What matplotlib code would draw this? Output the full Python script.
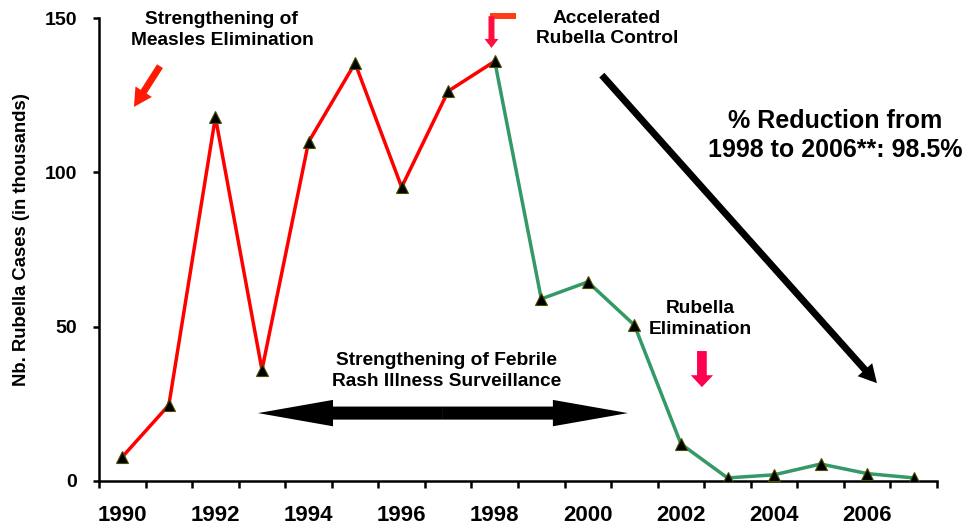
import matplotlib
matplotlib.use("Agg")
import matplotlib.pyplot as plt
from matplotlib.patches import FancyArrowPatch, ArrowStyle

plt.rcParams['font.family'] = ['Liberation Sans', 'DejaVu Sans']
plt.rcParams['font.weight'] = 'bold'

years = list(range(1990, 2008))
cases = [7.8, 24.6, 117.9, 36.0, 109.8, 135.4, 95.2, 126.3, 136.0,
         59.0, 64.5, 50.5, 12.0, 1.0, 2.0, 5.5, 2.4, 1.0]
split_year = 1998
year_labels = [str(y) if (y - 1990) % 2 == 0 else '' for y in years]
yticks = [0, 50, 100, 150]

red = '#ff0000'
green = '#339966'

fig = plt.figure(figsize=(9.66, 5.27), dpi=100)
ax = fig.add_axes([0.1025, 0.0873, 0.8675, 0.8785])

idx = list(range(len(years)))
k = years.index(split_year)
ax.plot(idx[:k + 1], cases[:k + 1], color=red, lw=2.5, zorder=2)
ax.plot(idx[k:], cases[k:], color=green, lw=2.5, zorder=2)
ax.plot(idx, cases, ls='none', marker='^', ms=8, mfc='black',
        mec='#4d4d00', mew=0.8, zorder=3)

ax.set_xlim(-0.5, len(years) - 0.5)
ax.set_ylim(0, 150)
ax.set_yticks(yticks)
ax.set_xticks([i - 0.5 for i in range(len(years) + 1)])
ax.set_xticklabels([])
ax.set_xticks(idx, minor=True)
ax.set_xticklabels(year_labels, minor=True)
ax.tick_params(axis='x', which='major', direction='out', length=5, width=1.8)
ax.tick_params(axis='x', which='minor', length=0, labelsize=16, pad=17)
ax.tick_params(axis='y', direction='out', length=4.5, width=1.8,
               labelsize=14, pad=11)
for t in ax.get_xticklabels(minor=True) + ax.get_yticklabels():
    t.set_fontweight('bold')
for s in ['top', 'right']:
    ax.spines[s].set_visible(False)
for s in ['left', 'bottom']:
    ax.spines[s].set_linewidth(1.8)

fig.text(22 / 966, 1 - 240 / 527, 'Nb. Rubella Cases (in thousands)',
         rotation=90, ha='center', va='center', fontsize=13.3,
         fontweight='bold')


def arrow(start, end, color, tail, hw, hl):
    st = ArrowStyle.Simple(head_length=hl, head_width=hw, tail_width=tail)
    p = FancyArrowPatch(start, end, arrowstyle=st, mutation_scale=1,
                        color=color, lw=0, shrinkA=0, shrinkB=0,
                        clip_on=False, zorder=4)
    ax.add_patch(p)


tkw = dict(ha='center', va='center', fontsize=13.8, fontweight='bold',
           linespacing=1.3, clip_on=False)
ax.text(2.14, 146.1, 'Strengthening of\nMeasles Elimination', **tkw)
ax.text(10.41, 146.6, 'Accelerated\nRubella Control', **tkw)
ax.text(12.41, 52.5, 'Rubella\nElimination', **tkw)
ax.text(6.97, 35.5, 'Strengthening of Febrile\nRash Illness Surveillance', **tkw)
ax.text(15.31, 111.9, '% Reduction from\n1998 to 2006**: 98.5%',
        ha='center', va='center', fontsize=18, fontweight='bold',
        linespacing=1.25)

# red arrow (measles)
arrow((0.81, 134.4), (0.25, 121.2), '#ff1a00', 5, 14, 13)
# bent arrow at 1998
ax.plot([7.9, 8.45], [150.6, 150.6], color='#ff3c14', lw=4.3,
        solid_capstyle='butt', clip_on=False, zorder=4)
arrow((7.93, 150.6), (7.93, 140.3), '#ff0d3d', 4.3, 10, 6.5)
# pink arrow (rubella elimination)
arrow((12.45, 42.1), (12.45, 30.4), '#ff0050', 7, 16, 8.6)
# long black arrow
arrow((10.30, 131.5), (16.21, 31.7), 'black', 5, 14, 13)
# double arrow
mid = (2.915 + 10.86) / 2
arrow((mid, 22.0), (2.915, 22.0), 'black', 9.4, 19, 54)
arrow((mid, 22.0), (10.86, 22.0), 'black', 9.4, 19, 54)

fig.savefig('out.png', dpi=100)
